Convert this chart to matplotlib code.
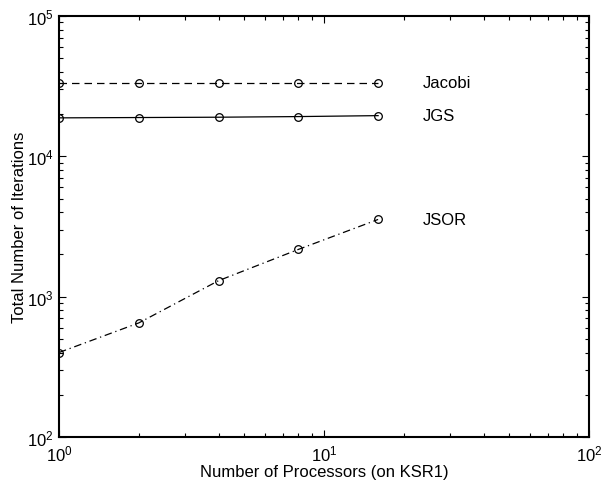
import matplotlib
matplotlib.use("Agg")
import matplotlib.pyplot as plt
import numpy as np

# Data
procs = [1, 2, 4, 8, 16]
jacobi = [33500, 33500, 33500, 33500, 33500]
jgs = [18800, 18900, 19000, 19200, 19500]
jsor = [400, 650, 1300, 2170, 3550]

labels = ["Jacobi", "JGS", "JSOR"]
label_x = 23.5

plt.rcParams['font.family'] = ['Liberation Sans', 'DejaVu Sans']

fig = plt.figure(figsize=(6.03, 4.89), dpi=100)
ax = fig.add_axes([59 / 603, 1 - 438 / 489, (589 - 59) / 603, (438 - 17) / 489])

style = dict(color='black', marker='o', markerfacecolor='none',
             markersize=5.5, markeredgewidth=0.9, linewidth=0.9)
ax.plot(procs, jacobi, linestyle=(0, (6, 4)), **style)
ax.plot(procs, jgs, linestyle='-', **style)
ax.plot(procs, jsor, linestyle=(0, (6, 3, 1, 3)), **style)

for name, series in zip(labels, [jacobi, jgs, jsor]):
    ax.text(label_x, series[-1], name, fontsize=12, ha='left', va='center')

ax.set_xscale('log')
ax.set_yscale('log')
ax.set_xlim(1, 100)
ax.set_ylim(100, 1e5)

ax.tick_params(which='both', direction='in', top=True, right=True, labelsize=12)
ax.tick_params(which='major', length=5, width=0.8)
ax.tick_params(which='minor', length=3, width=0.8)
ax.tick_params(axis='x', which='major', pad=5)
ax.tick_params(axis='y', which='major', pad=4)
for sp in ax.spines.values():
    sp.set_linewidth(1.5)

ax.set_xlabel("Number of Processors (on KSR1)", fontsize=12, labelpad=0)
ax.set_ylabel("Total Number of Iterations", fontsize=12, labelpad=0)

fig.savefig("out.png", dpi=100)
